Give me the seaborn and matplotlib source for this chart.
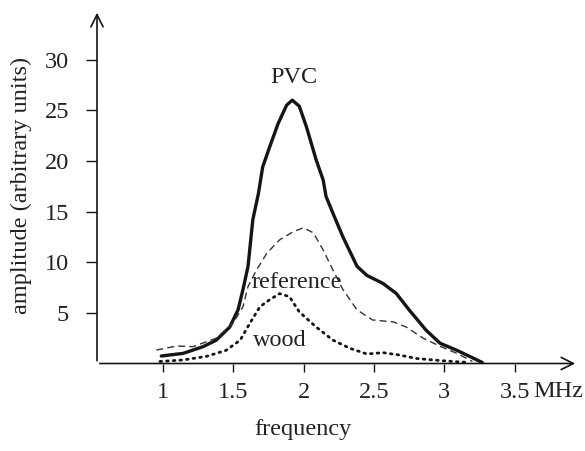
import numpy as np
import pandas as pd
import seaborn as sns
from matplotlib import pyplot as plt

# PVC (solid)
pvc_f = [0.99, 1.145, 1.286, 1.38, 1.476, 1.535, 1.57, 1.606, 1.62, 1.64, 1.68, 1.71, 1.76,
         1.82, 1.88, 1.92, 1.97, 2.02, 2.09, 2.14, 2.16, 2.21, 2.28, 2.38, 2.45, 2.565, 2.66,
         2.75, 2.87, 2.97, 3.09, 3.18, 3.27]
pvc_a = [0.74, 1.0, 1.66, 2.3, 3.6, 5.3, 7.3, 9.6, 11.5, 14.2, 16.8, 19.4, 21.4,
         23.7, 25.5, 26.0, 25.4, 23.4, 20.1, 18.1, 16.5, 14.8, 12.5, 9.6, 8.7, 7.9, 6.9,
         5.3, 3.3, 2.0, 1.3, 0.7, 0.1]

# reference (dashed)
ref_f = [0.955, 1.10, 1.215, 1.38, 1.50, 1.57, 1.606, 1.665, 1.74, 1.83, 1.925, 2.0, 2.07,
         2.14, 2.21, 2.28, 2.38, 2.49, 2.64, 2.73, 2.85, 2.97, 3.09, 3.2]
ref_a = [1.33, 1.73, 1.66, 2.5, 4.0, 5.6, 7.6, 9.2, 10.9, 12.2, 13.0, 13.4, 12.9,
         11.2, 9.2, 7.3, 5.3, 4.3, 4.1, 3.6, 2.5, 1.7, 1.0, 0.2]

# wood (dotted)
wood_f = [0.98, 1.145, 1.31, 1.45, 1.55, 1.62, 1.69, 1.76, 1.83, 1.9, 1.97, 2.09, 2.21, 2.33,
          2.45, 2.565, 2.68, 2.8, 2.92, 3.06, 3.18]
wood_a = [0.2, 0.35, 0.7, 1.3, 2.3, 4.0, 5.6, 6.3, 6.9, 6.6, 5.1, 3.6, 2.3, 1.5,
          0.94, 1.07, 0.84, 0.5, 0.35, 0.2, 0.1]

x_ticks = [1, 1.5, 2, 2.5, 3, 3.5]
x_labels = ["1", "1.5", "2", "2.5", "3", "3.5"]
y_ticks = [5, 10, 15, 20, 25, 30]


def main():
    sns.set_style("white")
    plt.rcParams["font.family"] = ["Liberation Serif", "DejaVu Serif"]

    fig = plt.figure(figsize=(5.85, 4.51), dpi=100)
    ax = fig.add_axes([97 / 585, 87.5 / 451, 481 / 585, 353.5 / 451])

    ink = "#151515"
    txt = "#222222"
    fs = 17.5
    sns.lineplot(x=pvc_f, y=pvc_a, ax=ax, color=ink, linewidth=2.4)
    sns.lineplot(x=ref_f, y=ref_a, ax=ax, color="#333333", linewidth=1.0, linestyle=(0, (5, 3)))
    sns.lineplot(x=wood_f, y=wood_a, ax=ax, color=ink, linewidth=2.0, linestyle=(0, (0.6, 1.8)),
                 dash_capstyle="round")

    ax.set_xlim(0.533, 3.95)
    ax.set_ylim(0, 34.9)

    for s in ax.spines.values():
        s.set_visible(False)
    # axis arrows
    ax.annotate("", xy=(1, 0), xytext=(0, 0), xycoords="axes fraction",
                arrowprops=dict(arrowstyle="->", color=ink, lw=1.2, mutation_scale=22))
    ax.annotate("", xy=(0, 1), xytext=(0, 0), xycoords="axes fraction",
                arrowprops=dict(arrowstyle="->", color=ink, lw=1.2, mutation_scale=22))

    ax.set_xticks(x_ticks)
    ax.set_xticklabels(x_labels)
    ax.set_yticks(y_ticks)
    ax.tick_params(axis="x", direction="out", length=6, width=1, color=ink, labelcolor=txt,
                   pad=7, labelsize=fs, bottom=True)
    ax.tick_params(axis="y", direction="out", length=8, width=1, color=ink, labelcolor=txt,
                   pad=12, labelsize=fs, left=True)

    ax.text(3.63, -2.75, "MHz", fontsize=fs, color=txt, ha="left", va="center", clip_on=False)
    ax.text(1.93, 28.2, "PVC", fontsize=fs, color=txt, ha="center", va="center")
    ax.text(1.955, 7.95, "reference", fontsize=fs, color=txt, ha="center", va="center")
    ax.text(1.83, 2.3, "wood", fontsize=fs, color=txt, ha="center", va="center")

    fig.text(303 / 585, 1 - 430 / 451, "frequency", fontsize=fs, color=txt, ha="center", va="center")
    fig.text(21 / 585, 1 - 185 / 451, "amplitude (arbitrary units)", fontsize=fs, color=txt,
             ha="center", va="center", rotation=90)

    plt.savefig("out.png", dpi=100)


if __name__ == "__main__":
    main()
